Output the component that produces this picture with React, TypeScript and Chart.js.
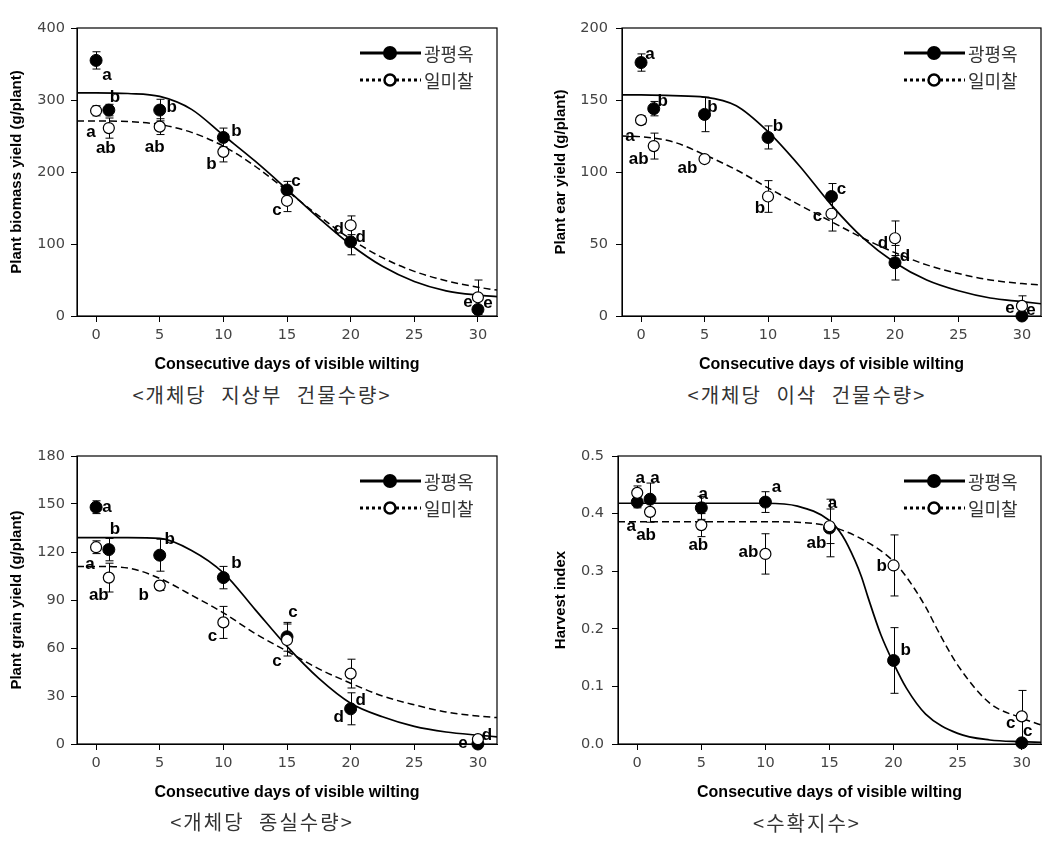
import React, { useEffect, useRef } from "react";
import { Chart, registerables } from "chart.js";

Chart.register(...registerables);

// ---------------- data ----------------
const DAYS = [0, 1, 5, 10, 15, 20, 30];
const SERIES_A = "광평옥";
const SERIES_B = "일미찰";
const X_TITLE = "Consecutive days of visible wilting";

// Panel 1: plant biomass yield
const BIO_A = [355, 286, 286, 248, 175, 103, 9];
const BIO_A_ERR = [12, 8, 15, 13, 12, 18, 3];
const BIO_A_LET = ["a", "b", "b", "b", "c", "d", "e"];
const BIO_B = [285, 261, 263, 228, 160, 126, 26];
const BIO_B_ERR = [7, 14, 11, 14, 15, 13, 24];
const BIO_B_LET = ["a", "ab", "ab", "b", "c", "d", "e"];
const FIT_X = [-1.5, 0, 2.5, 5, 7.5, 10, 12.5, 15, 17.5, 20, 22.5, 25, 27.5, 30, 31.5];
const BIO_FIT_A = [310, 310, 309, 305, 287, 251, 215, 176, 136, 99, 69, 48, 35, 29, 27];
const BIO_FIT_B = [271, 271, 270, 266, 255, 236, 208, 174, 139, 107, 81, 62, 49, 40, 36];

// Panel 2: plant ear yield
const EAR_A = [176, 144, 140, 124, 83, 37, 0];
const EAR_A_ERR = [6, 5, 12, 8, 9, 12, 1];
const EAR_A_LET = ["a", "b", "b", "b", "c", "d", "e"];
const EAR_B = [136, 118, 109, 83, 71, 54, 7];
const EAR_B_ERR = [3, 9, 2, 11, 12, 12, 7];
const EAR_B_LET = ["a", "ab", "ab", "b", "c", "d", "e"];
const EAR_FIT_A = [153.5, 153.5, 153, 152, 146, 128, 104, 77, 54, 37, 25, 17.5, 12.5, 10, 8.5];
const EAR_FIT_B = [125, 124.5, 121, 112, 101.5, 89, 77, 65.5, 54, 44, 35.5, 29.5, 25, 22.5, 21.5];

// Panel 3: plant grain yield
const GRAIN_A = [148, 121.5, 118, 104, 67, 22, 0];
const GRAIN_A_ERR = [4, 7, 10, 7, 9, 10, 1];
const GRAIN_A_LET = ["a", "b", "b", "b", "c", "d", "d"];
const GRAIN_B = [123, 104, 99, 76, 65, 44, 3];
const GRAIN_B_ERR = [4, 9, 3, 10, 10, 9, 2];
const GRAIN_B_LET = ["a", "ab", "b", "c", "c", "d", "e"];
const GRAIN_FIT_A = [129, 129, 129, 128.5, 121, 107, 84, 61, 41, 25.5, 17, 11, 7.5, 5.5, 4.5];
const GRAIN_FIT_B = [111, 111, 110, 103.5, 93, 82, 69, 58, 47, 38, 30, 24.5, 20, 17.5, 16.5];

// Panel 4: harvest index
const HI_A = [0.42, 0.425, 0.41, 0.42, 0.375, 0.145, 0.002];
const HI_A_ERR = [0.01, 0.028, 0.02, 0.018, 0.05, 0.057, 0.002];
const HI_A_LET = ["a", "a", "a", "a", "a", "b", "c"];
const HI_B = [0.436, 0.403, 0.38, 0.33, 0.378, 0.31, 0.048];
const HI_B_ERR = [0.012, 0.018, 0.02, 0.035, 0.03, 0.053, 0.045];
const HI_B_LET = ["a", "ab", "ab", "ab", "ab", "b", "c"];
const HI_FIT_A_X = [-1.5, 0, 5, 10, 12.5, 15, 16, 17, 17.5, 18, 19, 20, 21, 22.5, 25, 27.5, 30, 31.5];
const HI_FIT_A = [0.418, 0.418, 0.418, 0.418, 0.413, 0.388, 0.362, 0.318, 0.29, 0.255, 0.19, 0.14, 0.097, 0.052, 0.0185, 0.007, 0.004, 0.003];
const HI_FIT_B_X = [-1.5, 0, 5, 10, 12.5, 15, 17.5, 20, 21, 22.5, 23.5, 25, 27.5, 30, 31.5];
const HI_FIT_B = [0.386, 0.386, 0.386, 0.386, 0.385, 0.378, 0.356, 0.317, 0.29, 0.238, 0.195, 0.137, 0.071, 0.045, 0.033];

// ---------------- layout (label offsets in px) ----------------
const OFF_P1_A = [[11, 15], [6, -13], [12, -3], [13, -6], [9, -9], [10, -5], [10, -6]];
const OFF_P1_B = [[-5, 22], [-3, 20], [-5, 21], [-12, 12], [-10, 10], [-12, 4], [-10, 5]];
const OFF_P2_A = [[9, -8], [9, -7], [8, -7], [10, -11], [10, -7], [10, -6], [9, -6]];
const OFF_P2_B = [[-11, 16], [-15, 13], [-17, 9], [-8, 12], [-14, 3], [-12, 5], [-12, 2]];
const OFF_P3_A = [[11, 0], [6, -20], [10, -16], [13, -14], [6, -24], [10, -8], [9, -9]];
const OFF_P3_B = [[-6, 17], [-10, 18], [-16, 10], [-11, 14], [-10, 21], [-12, 44], [-15, 4]];
const OFF_P4_A = [[3, -24], [5, -21], [2, -14], [11, -15], [3, -25], [12, -10], [6, -12]];
const OFF_P4_B = [[-6, 33], [-4, 23], [-3, 20], [-17, -2], [-13, 17], [-12, 1], [-11, 7]];

type PanelCfg = {
  left: number; top: number; yWidth: number; padRight: number;
  yMin: number; yMax: number; yStep: number; yDecimals: number;
  yTitle: string; yTitlePad: number; yTickPad: number;
  a: number[]; aErr: number[]; aLet: string[]; offA: number[][];
  b: number[]; bErr: number[]; bLet: string[]; offB: number[][];
  fitAX: number[]; fitA: number[]; fitBX: number[]; fitB: number[];
  caption: string; capX: number; capY: number;
};

const PANELS: PanelCfg[] = [
  {
    left: 0, top: 0, yWidth: 77, padRight: 31, yMin: 0, yMax: 400, yStep: 100, yDecimals: 0,
    yTitle: "Plant biomass yield (g/plant)", yTitlePad: 8, yTickPad: 6,
    a: BIO_A, aErr: BIO_A_ERR, aLet: BIO_A_LET, offA: OFF_P1_A,
    b: BIO_B, bErr: BIO_B_ERR, bLet: BIO_B_LET, offB: OFF_P1_B,
    fitAX: FIT_X, fitA: BIO_FIT_A, fitBX: FIT_X, fitB: BIO_FIT_B,
    caption: "<개체당 지상부 건물수량>", capX: 262, capY: 395,
  },
  {
    left: 528, top: 0, yWidth: 94, padRight: 15, yMin: 0, yMax: 200, yStep: 50, yDecimals: 0,
    yTitle: "Plant ear yield (g/plant)", yTitlePad: 24, yTickPad: 8,
    a: EAR_A, aErr: EAR_A_ERR, aLet: EAR_A_LET, offA: OFF_P2_A,
    b: EAR_B, bErr: EAR_B_ERR, bLet: EAR_B_LET, offB: OFF_P2_B,
    fitAX: FIT_X, fitA: EAR_FIT_A, fitBX: FIT_X, fitB: EAR_FIT_B,
    caption: "<개체당 이삭 건물수량>", capX: 807, capY: 395,
  },
  {
    left: 0, top: 428, yWidth: 77, padRight: 31, yMin: 0, yMax: 180, yStep: 30, yDecimals: 0,
    yTitle: "Plant grain yield (g/plant)", yTitlePad: 8, yTickPad: 6,
    a: GRAIN_A, aErr: GRAIN_A_ERR, aLet: GRAIN_A_LET, offA: OFF_P3_A,
    b: GRAIN_B, bErr: GRAIN_B_ERR, bLet: GRAIN_B_LET, offB: OFF_P3_B,
    fitAX: FIT_X, fitA: GRAIN_FIT_A, fitBX: FIT_X, fitB: GRAIN_FIT_B,
    caption: "<개체당 종실수량>", capX: 262, capY: 822,
  },
  {
    left: 528, top: 428, yWidth: 90, padRight: 15, yMin: 0, yMax: 0.5, yStep: 0.1, yDecimals: 1,
    yTitle: "Harvest index", yTitlePad: 24, yTickPad: 8,
    a: HI_A, aErr: HI_A_ERR, aLet: HI_A_LET, offA: OFF_P4_A,
    b: HI_B, bErr: HI_B_ERR, bLet: HI_B_LET, offB: OFF_P4_B,
    fitAX: HI_FIT_A_X, fitA: HI_FIT_A, fitBX: HI_FIT_B_X, fitB: HI_FIT_B,
    caption: "<수확지수>", capX: 807, capY: 823,
  },
];

const CANVAS_W = 528;
const CANVAS_H = 380;
const SANS = "'Liberation Sans', Arial, sans-serif";
const TICK_FONT = "'DejaVu Sans', sans-serif";
const KR = "'Noto Sans CJK KR', sans-serif";

const decorPlugin = {
  id: "decor",
  beforeDatasetsDraw(chart: any) {
    const { ctx, chartArea: ca, scales } = chart;
    ctx.save();
    ctx.strokeStyle = "#000";
    ctx.lineWidth = 1.2;
    ctx.strokeRect(ca.left, ca.top, ca.right - ca.left, ca.bottom - ca.top);
    ctx.lineWidth = 1;
    chart.data.datasets.forEach((ds: any) => {
      if (!ds.errors) return;
      ds.data.forEach((p: any, i: number) => {
        const e = ds.errors[i];
        const x = Math.round(scales.x.getPixelForValue(p.x)) + 0.5;
        const y1 = scales.y.getPixelForValue(p.y + e);
        const y2 = scales.y.getPixelForValue(p.y - e);
        ctx.beginPath();
        ctx.moveTo(x, y1); ctx.lineTo(x, y2);
        ctx.moveTo(x - 4, y1); ctx.lineTo(x + 4, y1);
        ctx.moveTo(x - 4, y2); ctx.lineTo(x + 4, y2);
        ctx.stroke();
      });
    });
    ctx.restore();
  },
  afterDatasetsDraw(chart: any) {
    const { ctx, scales } = chart;
    ctx.save();
    ctx.fillStyle = "#000";
    ctx.font = `bold 17px ${SANS}`;
    ctx.textAlign = "center";
    ctx.textBaseline = "middle";
    chart.data.datasets.forEach((ds: any) => {
      if (!ds.letters) return;
      ds.data.forEach((p: any, i: number) => {
        const x = scales.x.getPixelForValue(p.x) + ds.offsets[i][0];
        const y = scales.y.getPixelForValue(p.y) + ds.offsets[i][1];
        ctx.fillText(ds.letters[i], x, y);
      });
    });
    ctx.restore();
  },
  afterDraw(chart: any) {
    const { ctx, chartArea: ca } = chart;
    const rows = [
      { y: ca.top + 25, dash: [] as number[], filled: true, text: SERIES_A },
      { y: ca.top + 52, dash: [3, 3], filled: false, text: SERIES_B },
    ];
    ctx.save();
    rows.forEach((r) => {
      ctx.strokeStyle = "#000";
      ctx.lineWidth = 3;
      ctx.setLineDash(r.dash);
      ctx.beginPath();
      ctx.moveTo(ca.right - 137, r.y);
      ctx.lineTo(ca.right - 76, r.y);
      ctx.stroke();
      ctx.setLineDash([]);
      ctx.beginPath();
      ctx.arc(ca.right - 107, r.y, r.filled ? 7 : 5.5, 0, Math.PI * 2);
      ctx.fillStyle = r.filled ? "#000" : "#fff";
      ctx.fill();
      if (!r.filled) {
        ctx.lineWidth = 2.5;
        ctx.stroke();
      }
      ctx.fillStyle = "#333";
      ctx.font = `18px ${KR}`;
      ctx.textAlign = "left";
      ctx.textBaseline = "middle";
      ctx.fillText(r.text, ca.right - 73, r.y + 1);
    });
    ctx.restore();
  },
};

function Panel({ cfg }: { cfg: PanelCfg }) {
  const ref = useRef<HTMLCanvasElement | null>(null);
  useEffect(() => {
    if (!ref.current) return;
    const pts = (vals: number[]) => DAYS.map((d, i) => ({ x: d, y: vals[i] }));
    const fit = (xs: number[], ys: number[]) => xs.map((x, i) => ({ x, y: ys[i] }));
    const chart = new Chart(ref.current, {
      type: "line",
      data: {
        datasets: [
          {
            label: SERIES_B,
            data: pts(cfg.b),
            showLine: false,
            pointRadius: 5.5,
            pointBackgroundColor: "#fff",
            pointBorderColor: "#000",
            pointBorderWidth: 1.2,
            clip: false,
            errors: cfg.bErr,
            letters: cfg.bLet,
            offsets: cfg.offB,
          } as any,
          {
            label: SERIES_A,
            data: pts(cfg.a),
            showLine: false,
            pointRadius: 6,
            pointBackgroundColor: "#000",
            pointBorderColor: "#000",
            pointBorderWidth: 1,
            clip: false,
            errors: cfg.aErr,
            letters: cfg.aLet,
            offsets: cfg.offA,
          } as any,
          {
            label: SERIES_B + " fit",
            data: fit(cfg.fitBX, cfg.fitB),
            borderColor: "#000",
            borderWidth: 1.5,
            borderDash: [7, 4],
            pointRadius: 0,
            cubicInterpolationMode: "monotone",
            fill: false,
          },
          {
            label: SERIES_A + " fit",
            data: fit(cfg.fitAX, cfg.fitA),
            borderColor: "#000",
            borderWidth: 1.7,
            pointRadius: 0,
            cubicInterpolationMode: "monotone",
            fill: false,
          },
        ],
      },
      options: {
        responsive: false,
        animation: false,
        devicePixelRatio: 1,
        events: [],
        layout: { padding: { left: 0, top: 28, right: cfg.padRight, bottom: 0 } },
        plugins: { legend: { display: false }, tooltip: { enabled: false } },
        scales: {
          x: {
            type: "linear",
            min: -1.5,
            max: 31.5,
            afterFit: (s: any) => { s.height = 64; },
            ticks: {
              stepSize: 5,
              includeBounds: false,
              padding: 5,
              color: "#444",
              font: { family: TICK_FONT, size: 14.5 },
            },
            grid: { drawOnChartArea: false, drawTicks: true, tickLength: 6, color: "#000" },
            border: { color: "#000", width: 1 },
            title: {
              display: true,
              text: X_TITLE,
              color: "#000",
              font: { family: SANS, size: 16, weight: "bold" },
              padding: { top: 0, bottom: 6 },
            },
          },
          y: {
            type: "linear",
            min: cfg.yMin,
            max: cfg.yMax,
            afterFit: (s: any) => { s.width = cfg.yWidth; },
            ticks: {
              stepSize: cfg.yStep,
              padding: cfg.yTickPad,
              color: "#444",
              font: { family: TICK_FONT, size: 14.5 },
              callback: (v: any) => Number(v).toFixed(cfg.yDecimals),
            },
            grid: { drawOnChartArea: false, drawTicks: true, tickLength: 6, color: "#000" },
            border: { color: "#000", width: 1 },
            title: {
              display: true,
              text: cfg.yTitle,
              color: "#000",
              font: { family: SANS, size: 15, weight: "bold" },
              padding: { top: cfg.yTitlePad, bottom: 0 },
            },
          },
        },
      },
      plugins: [decorPlugin],
    } as any);
    return () => chart.destroy();
  }, [cfg]);

  return (
    <>
      <canvas
        ref={ref}
        width={CANVAS_W}
        height={CANVAS_H}
        style={{ position: "absolute", left: cfg.left, top: cfg.top, width: CANVAS_W, height: CANVAS_H }}
      />
      <div
        style={{
          position: "absolute",
          left: cfg.capX - 200,
          top: cfg.capY - 15,
          width: 400,
          height: 30,
          lineHeight: "30px",
          textAlign: "center",
          fontFamily: KR,
          fontSize: 20,
          letterSpacing: 2,
          wordSpacing: 8,
          color: "#333",
          whiteSpace: "pre",
        }}
      >
        {cfg.caption}
      </div>
    </>
  );
}

export default function App() {
  return (
    <div style={{ position: "absolute", left: 0, top: 0, width: 1056, height: 846, background: "#fff", overflow: "hidden" }}>
      {PANELS.map((p, i) => (
        <Panel key={i} cfg={p} />
      ))}
    </div>
  );
}
